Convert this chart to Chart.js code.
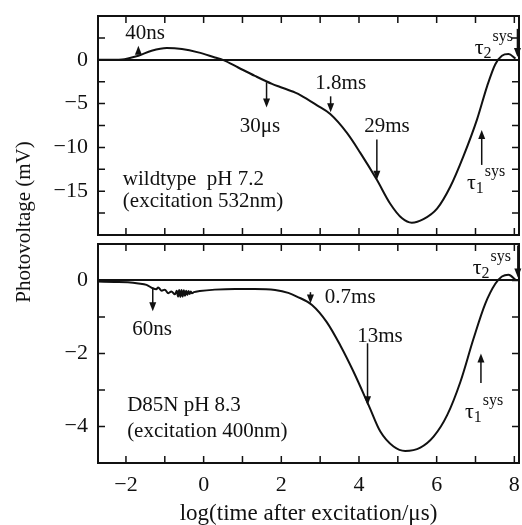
<!DOCTYPE html>
<html>
<head>
<meta charset="utf-8">
<script src="https://cdn.jsdelivr.net/npm/chart.js@4.4.1/dist/chart.umd.min.js"></script>
<style>
	body { margin: 0; background: #fff; }
	#figura { position: relative; width: 522px; height: 525px; }
	#graficoTopo { position: absolute; left: 0; top: 0; }
	#graficoBase { position: absolute; left: 0; top: 240px; }
	#tituloY {
		position: absolute; left: -77px; top: 210px; width: 200px; height: 24px;
		line-height: 24px; text-align: center; color: #111;
		font: 21px "Liberation Serif"; transform: rotate(-90deg);
	}
</style>
</head>
<body>
<div id="figura">
	<canvas id="graficoTopo" width="522" height="240"></canvas>
	<canvas id="graficoBase" width="522" height="285"></canvas>
	<div id="tituloY">Photovoltage (mV)</div>
</div>
<script>
// wildtype pH 7.2 (excitation 532nm)
var tempoTopo = [-2.72, -2.3, -2.1, -1.95, -1.68, -1.34, -0.95, -0.56, -0.14, 0.29, 0.51, 0.89, 1.32, 1.76,
	1.97, 2.36, 2.5, 2.92, 3.26, 3.69, 4.03, 4.46, 4.8, 5.11, 5.36, 5.66, 6.01, 6.35, 6.69, 7.04, 7.3,
	7.51, 7.68, 7.85, 8.03];
var voltTopo = [0, 0, 0.03, 0.15, 0.46, 1.03, 1.34, 1.23, 0.85, 0.27, -0.03, -0.88, -1.84, -2.75,
	-3.1, -3.75, -4.05, -5.2, -6.2, -8.35, -10.6, -13.7, -16.4, -18.1, -18.6, -18.2, -17.0, -14.5, -11.0, -6.8, -3.0,
	-0.5, 0.46, 0.65, 0.15];

// D85N pH 8.3 (excitation 400nm)
var tempoBase = [-2.72, -2.3, -1.95, -1.68, -1.47, -1.3, -1.22, -1.17, -1.08, -1.0, -0.91, -0.83, -0.74,
	-0.69, -0.66, -0.63, -0.6, -0.57, -0.54, -0.51, -0.48, -0.45, -0.42, -0.39, -0.36, -0.33, -0.3, -0.25,
	-0.1, 0.29, 0.81, 1.32, 1.84, 2.18, 2.4, 2.79, 3.17, 3.52, 3.86, 4.25, 4.55, 4.89, 5.19, 5.58, 5.92,
	6.27, 6.61, 6.95, 7.25, 7.51, 7.68, 7.85, 8.03];
var voltBase = [-0.03, -0.04, -0.05, -0.08, -0.12, -0.22, -0.24, -0.19, -0.28, -0.25, -0.35, -0.3, -0.38,
	-0.28, -0.44, -0.26, -0.45, -0.26, -0.44, -0.27, -0.42, -0.28, -0.4, -0.29, -0.37, -0.3, -0.35, -0.32,
	-0.29, -0.25, -0.23, -0.23, -0.26, -0.34, -0.44, -0.67, -1.14, -1.78, -2.5, -3.42, -4.14, -4.55, -4.67, -4.58, -4.28,
	-3.69, -2.78, -1.59, -0.64, -0.09, 0.11, 0.16, 0.02];

var rotulosX = [-2, 0, 2, 4, 6, 8];
var rotulosYTopo = [0, -5, -10, -15];
var rotulosYBase = [0, -2, -4];

var X_MIN = -2.72, X_MAX = 8.12;
var FONTE = 'Liberation Serif';
var COR = '#111';

function pontos(xs, ys) {
	return xs.map(function(x, i) { return { x: x, y: ys[i] }; });
}

function formatar(lista) {
	return function(valor) {
		if (lista.indexOf(valor) < 0) return '';
		return valor < 0 ? '\u2212' + Math.abs(valor) : String(valor);
	};
}

function seta(ctx, x, yCauda, yPonta) {
	var dir = yPonta > yCauda ? 1 : -1;
	ctx.beginPath();
	ctx.moveTo(x, yCauda);
	ctx.lineTo(x, yPonta - dir * 6);
	ctx.stroke();
	ctx.beginPath();
	ctx.moveTo(x, yPonta);
	ctx.lineTo(x - 3.5, yPonta - dir * 9);
	ctx.lineTo(x + 3.5, yPonta - dir * 9);
	ctx.closePath();
	ctx.fill();
}

var molduraPlugin = {
	id: 'moldura',
	afterDraw: function(chart, args, opcoes) {
		var ctx = chart.ctx, area = chart.chartArea;
		var sx = chart.scales.x, sy = chart.scales.y;
		ctx.save();
		ctx.strokeStyle = COR;
		ctx.fillStyle = COR;
		ctx.lineWidth = 2;
		ctx.strokeRect(area.left, area.top, area.right - area.left, area.bottom - area.top);

		ctx.lineWidth = 1.5;
		ctx.beginPath();
		sx.ticks.forEach(function(t) {
			if (t.value % 1 !== 0) return;
			var px = sx.getPixelForValue(t.value);
			ctx.moveTo(px, area.top); ctx.lineTo(px, area.top + 7);
			ctx.moveTo(px, area.bottom); ctx.lineTo(px, area.bottom - 7);
		});
		sy.ticks.forEach(function(t) {
			if (t.value <= sy.min || t.value >= sy.max) return;
			var py = sy.getPixelForValue(t.value);
			ctx.moveTo(area.left, py); ctx.lineTo(area.left + 7, py);
			ctx.moveTo(area.right, py); ctx.lineTo(area.right - 7, py);
		});
		ctx.stroke();

		(opcoes.itens || []).forEach(function(a) {
			var px = sx.getPixelForValue(a.x), py = sy.getPixelForValue(a.y);
			if (a.seta !== undefined) {
				ctx.lineWidth = 1.5;
				seta(ctx, px, py, sy.getPixelForValue(a.seta));
			} else if (a.tau) {
				ctx.textBaseline = 'alphabetic';
				ctx.textAlign = 'left';
				ctx.font = '22px "' + FONTE + '"';
				ctx.fillText('\u03C4', px, py);
				var w = ctx.measureText('\u03C4').width;
				ctx.font = '16px "' + FONTE + '"';
				ctx.fillText(a.tau, px + w, py + 4);
				var w2 = ctx.measureText(a.tau).width;
				ctx.fillText('sys', px + w + w2 + 1, py - 13);
			} else {
				ctx.textBaseline = 'middle';
				ctx.textAlign = a.alinhar || 'center';
				ctx.font = '21px "' + FONTE + '"';
				ctx.fillText(a.texto, px, py);
			}
		});
		ctx.restore();
	}
};

function eixoY(min, max, passo, rotulos) {
	return {
		min: min, max: max,
		ticks: {
			stepSize: passo, includeBounds: false, autoSkip: false, padding: 10,
			color: COR, font: { family: FONTE, size: 22 },
			callback: formatar(rotulos)
		},
		grid: {
			drawTicks: false, lineWidth: 2,
			color: function(c) { return c.tick && c.tick.value === 0 ? COR : 'rgba(0,0,0,0)'; }
		},
		border: { display: false },
		afterFit: function(scale) {
			scale.width = 98;
			scale.paddingTop = 0;
			scale.paddingBottom = 0;
		}
	};
}

function linha(xs, ys) {
	return {
		data: pontos(xs, ys),
		borderColor: COR, borderWidth: 2, pointRadius: 0,
		cubicInterpolationMode: 'monotone', fill: false
	};
}

new Chart(document.getElementById('graficoTopo'), {
	type: 'line',
	data: { datasets: [linha(tempoTopo, voltTopo)] },
	options: {
		responsive: false, animation: false,
		layout: { padding: { top: 16, right: 3, bottom: 5, left: 0 } },
		plugins: {
			legend: { display: false }, tooltip: { enabled: false },
			moldura: {
				itens: [
					{ texto: '40ns', x: -1.51, y: 2.95 },
					{ x: -1.68, y: 0.66, seta: 1.61 },
					{ texto: '30\u03BCs', x: 1.45, y: -7.63 },
					{ x: 1.62, y: -2.56, seta: -5.44 },
					{ texto: '1.8ms', x: 3.53, y: -2.68 },
					{ x: 3.27, y: -4.17, seta: -6.0 },
					{ texto: '29ms', x: 4.72, y: -7.63 },
					{ x: 4.46, y: -9.1, seta: -13.7 },
					{ tau: '2', x: 6.98, y: 0.66 },
					{ x: 8.08, y: 3.53, seta: 0.31 },
					{ tau: '1', x: 6.78, y: -14.75 },
					{ x: 7.16, y: -12.0, seta: -8.0 },
					{ texto: 'wildtype  pH 7.2', x: -2.08, y: -13.7, alinhar: 'left' },
					{ texto: '(excitation 532nm)', x: -2.08, y: -16.13, alinhar: 'left' }
				]
			}
		},
		scales: {
			x: { type: 'linear', min: X_MIN, max: X_MAX, display: false, ticks: { stepSize: 1, includeBounds: false } },
			y: eixoY(-20, 5, 2.5, rotulosYTopo)
		}
	},
	plugins: [molduraPlugin]
});

new Chart(document.getElementById('graficoBase'), {
	type: 'line',
	data: { datasets: [linha(tempoBase, voltBase)] },
	options: {
		responsive: false, animation: false,
		layout: { padding: { top: 4, right: 3, bottom: 0, left: 0 } },
		plugins: {
			legend: { display: false }, tooltip: { enabled: false },
			moldura: {
				itens: [
					{ texto: '60ns', x: -1.33, y: -1.34 },
					{ x: -1.31, y: -0.19, seta: -0.84 },
					{ texto: '0.7ms', x: 3.12, y: -0.46, alinhar: 'left' },
					{ x: 2.75, y: -0.32, seta: -0.63 },
					{ texto: '13ms', x: 4.54, y: -1.53 },
					{ x: 4.22, y: -1.72, seta: -3.42 },
					{ tau: '2', x: 6.93, y: 0.19 },
					{ x: 8.09, y: 0.96, seta: 0.08 },
					{ tau: '1', x: 6.73, y: -3.77 },
					{ x: 7.14, y: -2.81, seta: -2.0 },
					{ texto: 'D85N pH 8.3', x: -1.97, y: -3.42, alinhar: 'left' },
					{ texto: '(excitation 400nm)', x: -1.97, y: -4.15, alinhar: 'left' }
				]
			}
		},
		scales: {
			x: {
				type: 'linear', min: X_MIN, max: X_MAX,
				ticks: {
					stepSize: 1, includeBounds: false, autoSkip: false, maxRotation: 0, padding: 9,
					color: COR, font: { family: FONTE, size: 22 },
					callback: formatar(rotulosX)
				},
				grid: { display: false, drawTicks: false },
				border: { display: false },
				title: {
					display: true, text: 'log(time after excitation/\u03BCs)', color: COR,
					font: { family: FONTE, size: 23, lineHeight: 1 }, padding: 0
				},
				afterFit: function(scale) {
					scale.height = 62;
					scale.paddingLeft = 0;
					scale.paddingRight = 0;
				}
			},
			y: eixoY(-5, 1, 1, rotulosYBase)
		}
	},
	plugins: [molduraPlugin]
});
</script>
</body>
</html>
